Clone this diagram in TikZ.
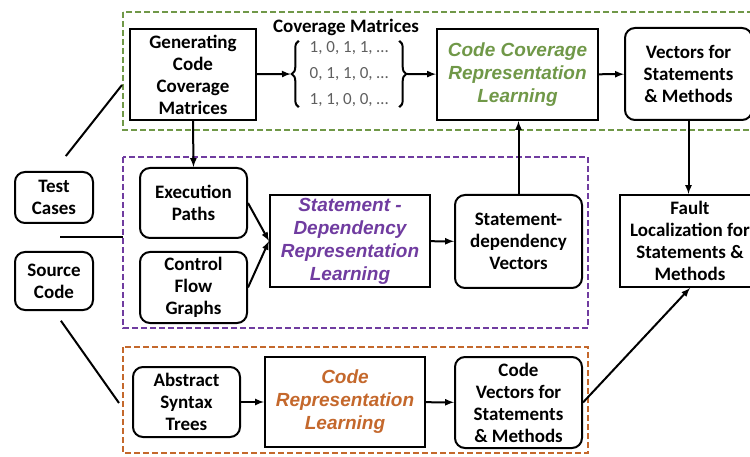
\documentclass[tikz,border=0pt]{standalone}
\usepackage{fontspec}
\setmainfont{Carlito}
\newfontfamily\arialfont{Liberation Sans}
\usetikzlibrary{arrows}
\usetikzlibrary{calc}
\usetikzlibrary{decorations.pathreplacing}
\definecolor{ccgreen}{RGB}{112,152,72}
\definecolor{sdpurple}{RGB}{112,60,160}
\definecolor{crorange}{RGB}{196,104,44}
\definecolor{matgrey}{RGB}{95,95,95}

\begin{document}
\begin{tikzpicture}[x=1pt,y=-1pt,>=latex,
		every node/.style={font=\fontsize{19}{22}\selectfont\bfseries, align=center, inner sep=0pt},
		sqbox/.style={draw, line width=2pt},
		rbox/.style={draw, line width=2pt, rounded corners=10pt},
		learn/.style={font=\fontsize{19}{23}\selectfont\arialfont\bfseries\itshape, text=#1},
		group/.style={draw=#1, line width=1.8pt, dash pattern=on 6pt off 3pt},
		link/.style={line width=2pt},
		curly/.style={decorate, decoration={brace, amplitude=7pt}, line width=2pt}]
		\useasboundingbox (0,0) rectangle (750,457);
		% dashed groups
		\draw[group=ccgreen] (123,12) rectangle (770,130);
		\draw[group=sdpurple] (123,157) rectangle (588,328);
		\draw[group=crorange] (123,347) rectangle (588,453);
		% inputs
		\node[rbox, minimum width=78pt, minimum height=51pt] (test) at (54,197.5) {Test\\Cases};
		\node[rbox, minimum width=78pt, minimum height=58pt] (src) at (54,281) {Source\\Code};
		\coordinate (tsmid) at ($(test.south)!0.5!(src.north)$);
		\coordinate (ccin) at (122,85);
		\coordinate (sdin) at (123,237.5);
		\coordinate (crin) at (119,403);
		% code coverage
		\node[sqbox, minimum width=126pt, minimum height=91pt] (gen) at (193,74.5) {Generating\\Code\\Coverage\\Matrices};
		\node (covlab) at (346,27) {Coverage Matrices};
		\node[font=\fontsize{17}{26}\selectfont, text=matgrey, minimum width=100pt, minimum height=66pt] (mat) at (349,74)
			{1, 0, 1, 1, \dots\\0, 1, 1, 0, \dots\\1, 1, 0, 0, \dots};
		\draw[curly] (mat.south west) -- (mat.north west);
		\draw[curly] (mat.north east) -- (mat.south east);
		\node[sqbox, learn=ccgreen, minimum width=161pt, minimum height=91pt] (ccrl) at (517.5,74.5) {Code Coverage\\Representation\\Learning};
		\node[rbox, minimum width=127pt, minimum height=92pt] (vec) at (688.5,74) {Vectors for\\Statements\\\& Methods};
		% statement dependency
		\node[rbox, minimum width=107pt, minimum height=70pt] (exec) at (193.5,203) {Execution\\Paths};
		\node[rbox, minimum width=107pt, minimum height=71pt] (cfg) at (193.5,287.5) {Control\\Flow\\Graphs};
		\node[sqbox, learn=sdpurple, minimum width=160pt, minimum height=92pt] (sdrl) at (350,241) {Statement -\\Dependency\\Representation\\Learning};
		\node[rbox, minimum width=127pt, minimum height=93pt] (sdvec) at (518.5,241.5) {Statement-\\dependency\\Vectors};
		\node[sqbox, minimum width=140pt, minimum height=92pt] (fault) at (690,241) {Fault\\Localization for\\Statements \&\\Methods};
		% code representation
		\node[rbox, minimum width=107pt, minimum height=70pt] (ast) at (186.5,402) {Abstract\\Syntax\\Trees};
		\node[sqbox, learn=crorange, minimum width=160pt, minimum height=90pt] (crl) at (345,402) {Code\\Representation\\Learning};
		\node[rbox, minimum width=127pt, minimum height=91pt] (cvec) at (518.5,402.5) {Code\\Vectors for\\Statements\\\& Methods};
		% connectors
		\draw[link, shorten <=19pt] (test.north) -- (ccin);
		\draw[link, shorten <=6pt] (tsmid) -- (sdin);
		\draw[link, shorten <=12pt] (src.south) -- (crin);
		\draw[link,->] (gen) -- ($(mat.west)+(-8,0)$);
		\draw[link,->] ($(mat.east)+(8,0)$) -- (ccrl);
		\draw[link,->] (ccrl) -- (vec);
		\draw[link,->] (gen.south) -- (exec.north);
		\draw[link,->] (exec.east) -- (sdrl.west);
		\draw[link,->] (cfg.east) -- (sdrl.west);
		\draw[link,->] (sdrl) -- (sdvec);
		\draw[link,->] (sdvec.north) -- (sdvec.north |- ccrl.south);
		\draw[link,->] (vec.south) -- (vec.south |- fault.north);
		\draw[link,->] (ast) -- (crl);
		\draw[link,->] (crl) -- (cvec);
		\draw[link,->] (cvec.east) -- (fault.south);
	\end{tikzpicture}
\end{document}
